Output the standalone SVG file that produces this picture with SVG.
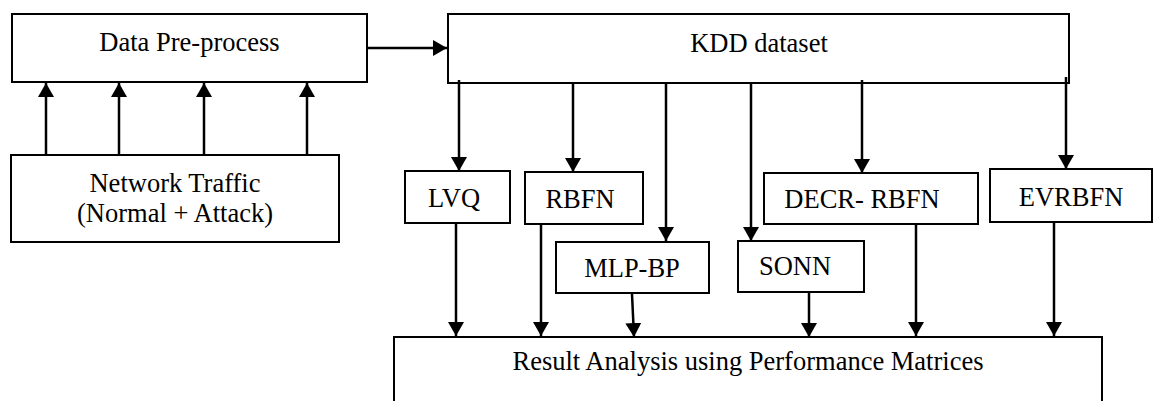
<svg xmlns="http://www.w3.org/2000/svg" width="1157" height="401" viewBox="0 0 1157 401">
<style>
.box{fill:#fff;stroke:#000;stroke-width:2}
.lbl{font-family:"Liberation Serif","Times New Roman",serif;font-size:26.5px;fill:#000;text-anchor:middle}
.con{stroke:#000;stroke-width:2.5;fill:none;marker-end:url(#ah)}
</style>
<defs>
<marker id="ah" markerUnits="userSpaceOnUse" markerWidth="16" markerHeight="16" refX="14" refY="8" orient="auto">
<path d="M0,0 L14,8 L0,16 Z" fill="#000"/>
</marker>
</defs>
<rect width="1157" height="401" fill="#fff"/>
<g id="data-preprocess"><rect class="box" x="12" y="14" width="355" height="68"/><text class="lbl" x="189.5" y="51">Data Pre-process</text></g>
<g id="kdd-dataset"><rect class="box" x="448" y="14" width="621" height="69"/><text class="lbl" x="759" y="52">KDD dataset</text></g>
<g id="network-traffic"><rect class="box" x="11" y="155" width="328" height="87"/><text class="lbl" x="175" y="192">Network Traffic</text><text class="lbl" x="175" y="222">(Normal + Attack)</text></g>
<g id="lvq"><rect class="box" x="405" y="171" width="105" height="52"/><text class="lbl" x="454" y="207">LVQ</text></g>
<g id="rbfn"><rect class="box" x="525" y="172" width="118" height="52"/><text class="lbl" x="580" y="208">RBFN</text></g>
<g id="mlp-bp"><rect class="box" x="556" y="242" width="153" height="51"/><text class="lbl" x="632" y="277">MLP-BP</text></g>
<g id="sonn"><rect class="box" x="738" y="241" width="126" height="51"/><text class="lbl" x="795" y="275">SONN</text></g>
<g id="decr-rbfn"><rect class="box" x="764" y="173" width="214" height="51"/><text class="lbl" x="862" y="208">DECR- RBFN</text></g>
<g id="evrbfn"><rect class="box" x="990" y="169" width="162" height="53"/><text class="lbl" x="1071" y="206">EVRBFN</text></g>
<g id="result-analysis"><rect class="box" x="394" y="337" width="708" height="80"/><text class="lbl" x="748" y="370">Result Analysis using Performance Matrices</text></g>
<g id="connectors">
<line class="con" x1="46" y1="155" x2="46" y2="83"/>
<line class="con" x1="119" y1="155" x2="119" y2="83"/>
<line class="con" x1="204" y1="155" x2="204" y2="83"/>
<line class="con" x1="307" y1="155" x2="307" y2="83"/>
<line class="con" x1="368" y1="48" x2="447" y2="48"/>
<line class="con" x1="459" y1="80" x2="459" y2="171"/>
<line class="con" x1="573" y1="83" x2="573" y2="172"/>
<line class="con" x1="666" y1="83" x2="666" y2="241"/>
<line class="con" x1="751" y1="84" x2="751" y2="241"/>
<line class="con" x1="862" y1="80" x2="862" y2="173"/>
<line class="con" x1="1066" y1="77" x2="1066" y2="169"/>
<line class="con" x1="456" y1="224" x2="456" y2="336"/>
<line class="con" x1="541" y1="225" x2="541" y2="336"/>
<line class="con" x1="632" y1="294" x2="634" y2="337"/>
<line class="con" x1="809" y1="293" x2="809" y2="337"/>
<line class="con" x1="916" y1="225" x2="916" y2="336"/>
<line class="con" x1="1054" y1="223" x2="1054" y2="336"/>
</g>
</svg>
